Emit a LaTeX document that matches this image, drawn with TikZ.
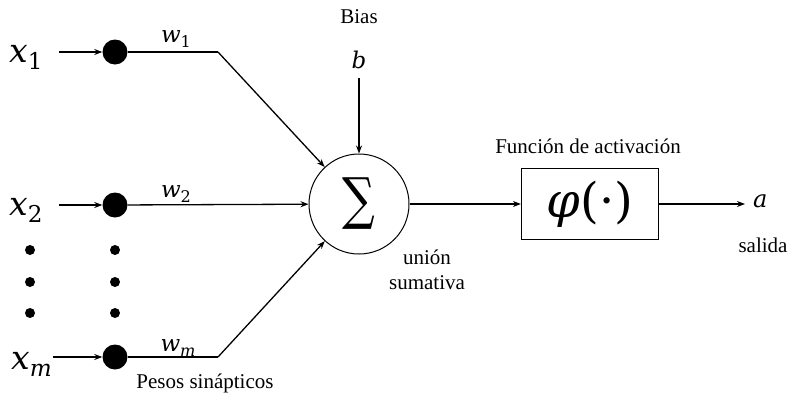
\documentclass[tikz,border=0pt]{standalone}
\usepackage{fontspec}
\setmainfont{Liberation Serif}
\newfontfamily\symfont{DejaVu Serif}
\usepackage{graphicx}
\usetikzlibrary{arrows.meta, positioning}
\newcommand{\var}[3]{{\symfont\fontsize{#1}{#1}\selectfont\itshape #2%
  \raisebox{-0.22em}{\fontsize{0.7\dimexpr#1pt}{1pt}\selectfont\itshape #3}}}
\tikzset{
  lbl/.style={font=\rmfamily\fontsize{21}{25}\selectfont, inner sep=1pt},
  bigdot/.style={circle, fill=black, minimum size=25pt, inner sep=0pt},
  smalldot/.style={circle, fill=black, minimum size=10pt, inner sep=0pt},
  sumnode/.style={circle, draw=black, line width=1pt,
                  minimum size=100pt, inner sep=0pt},
  actbox/.style={rectangle, draw=black, line width=1.2pt,
                 minimum width=137pt, minimum height=71pt, inner sep=0pt},
  arrow/.style={-{Stealth[length=8pt,width=6pt]}, line width=1.3pt},
  wire/.style={line width=1.3pt}
}

\begin{document}
\begin{tikzpicture}[x=1pt, y=-1pt]
  \useasboundingbox (0,0) rectangle (793,394);

  % ── Inputs ──
  \node[inner sep=0pt, anchor=base west] (x1) at (9,62) {\var{33}{x}{\upshape 1}};
  \node[inner sep=0pt, anchor=base west] (x2) at (9,215) {\var{33}{x}{\upshape 2}};
  \node[inner sep=0pt, anchor=base west] (xm) at (11,369) {\var{33}{x}{m}};

  \node[bigdot] (d1) at (115,52) {};
  \node[bigdot] (d2) at (115,205) {};
  \node[bigdot] (dm) at (115,357) {};

  \foreach \y [count=\i] in {250,282,313} {
    \node[smalldot] (vx\i) at (30,\y) {};
    \node[smalldot] (vd\i) at (115,\y) {};
  }

  \node[inner sep=0pt, anchor=base] (w1) at (176,42) {\var{23}{w}{\upshape 1}};
  \node[inner sep=0pt, anchor=base] (w2) at (176,197) {\var{23}{w}{\upshape 2}};
  \node[inner sep=0pt, anchor=base] (wm) at (178,351) {\var{23}{w}{m}};
  \node[lbl] (pesos) at (205,383) {Pesos sinápticos};

  \coordinate (c1) at (218,52);
  \coordinate (cm) at (218,357);

  % ── Summing junction ──
  \node[sumnode] (sum) at (359,204)
      {\symfont\fontsize{54}{54}\selectfont\scalebox{0.85}[1.05]{∑}};
  \node[lbl] (bias) at (359,17) {Bias};
  \node[inner sep=0pt] (b) at (359,62) {\var{23}{b}{}};
  \node[lbl, align=center] (union) at (427,270) {unión\\sumativa};

  % ── Activation ──
  \node[actbox] (act) at (590,204)
      {\symfont\fontsize{48}{48}\selectfont{\itshape φ}(·)};
  \node[lbl] (actlbl) at (588,146) {Función de activación};

  \node[inner ysep=0pt, inner xsep=8pt, anchor=west] (a) at (745,204) {\var{24}{a}{}};
  \node[lbl] (salida) at (763,245) {salida};

  % ── Connectors ──
  \draw[arrow, shorten <=16pt] (x1.east |- d1) -- (d1);
  \draw[arrow, shorten <=16pt] (x2.east |- d2) -- (d2);
  \draw[arrow, shorten <=1pt] (xm.east |- dm) -- (dm);

  \draw[wire] (d1) -- (c1);
  \draw[arrow] (c1) -- (sum);
  \draw[arrow] (d2) -- (sum);
  \draw[wire] (dm) -- (cm);
  \draw[arrow] (cm) -- (sum);

  \draw[arrow, shorten <=5pt] (b) -- (sum);
  \draw[arrow] (sum) -- (act);
  \draw[arrow] (act) -- (a);

\end{tikzpicture}
\end{document}
